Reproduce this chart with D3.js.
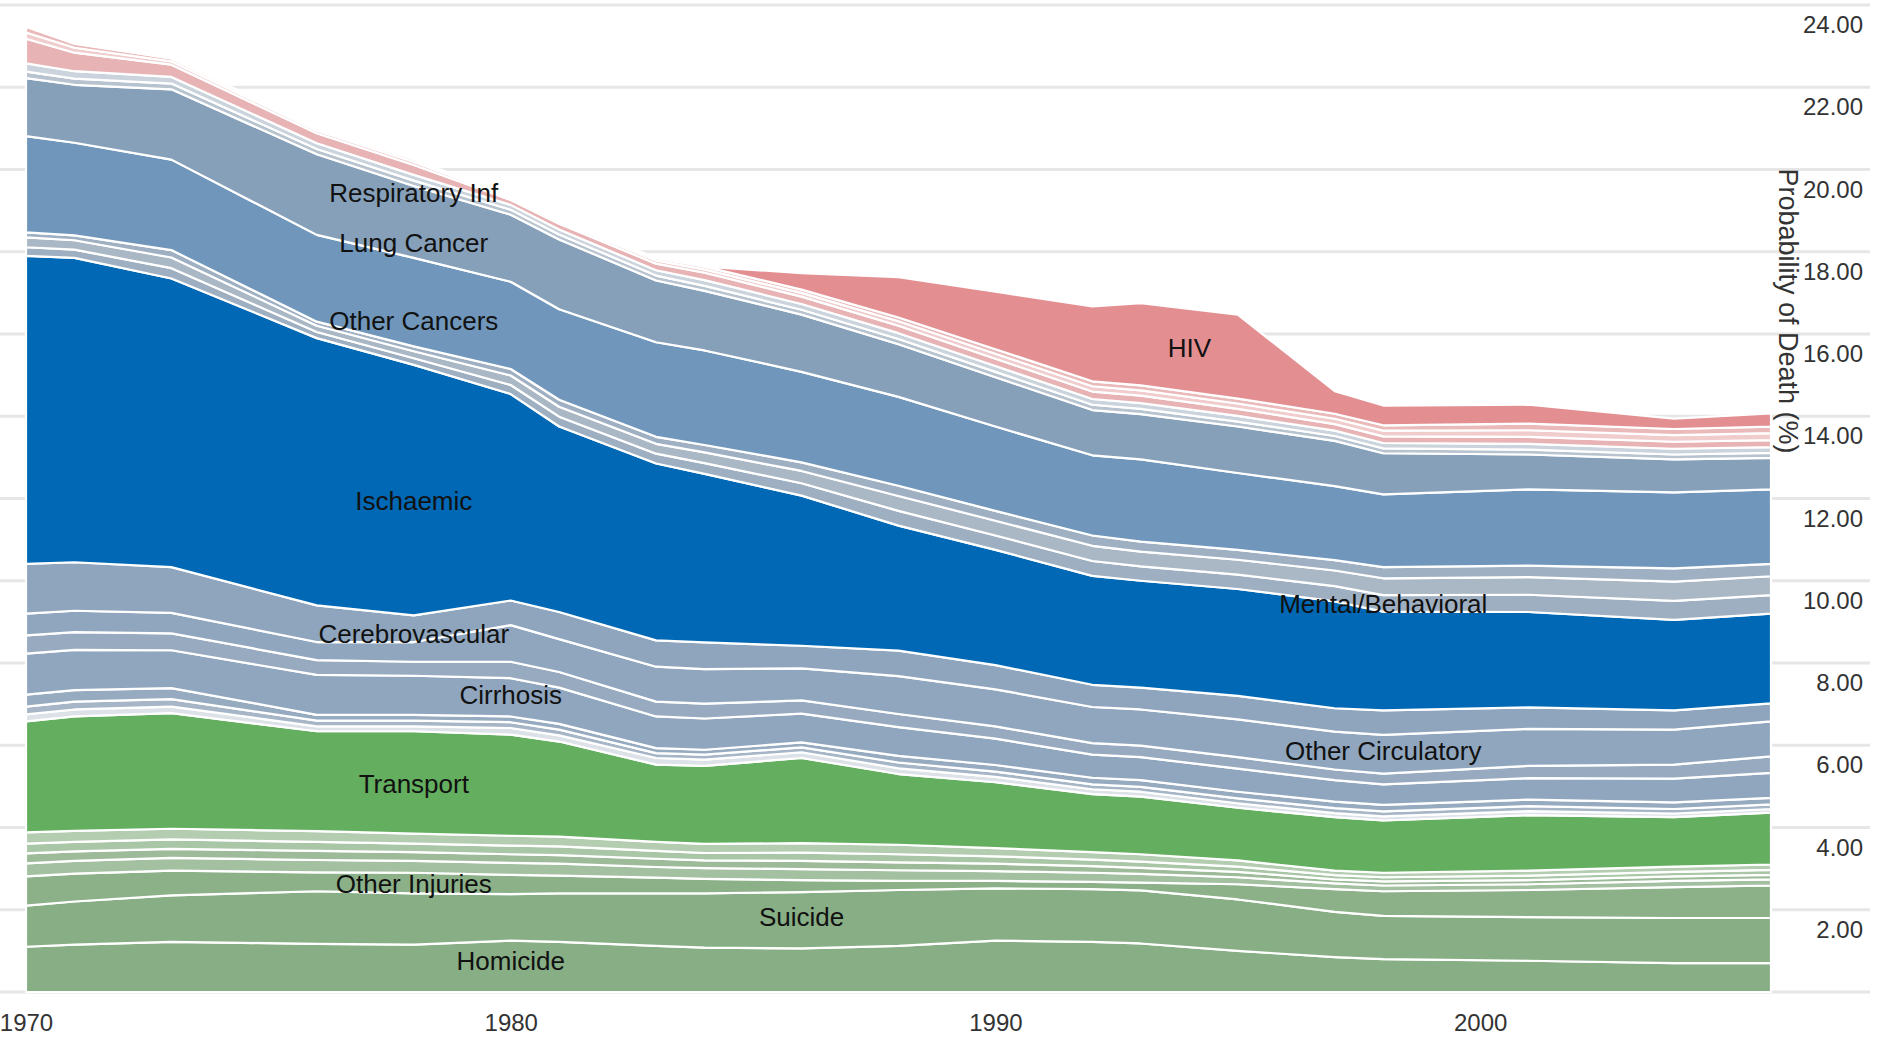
<!DOCTYPE html>
<html>
  <head>
    <meta charset="utf-8">
    <title>Probability of Death by Cause</title>
    <script src="https://d3js.org/d3.v7.min.js"></script>
    <style>
      body { margin: 0; background: #fff; }
      .grid line { stroke: #e6e6e6; stroke-width: 3; }
      .layer { stroke: #fff; stroke-width: 2.2; stroke-linejoin: round; }
      .axis text { font-family: "Liberation Sans", Arial, sans-serif; font-size: 24px; fill: #333; }
      .axis path { display: none; }
      .label { font-family: "Liberation Sans", Arial, sans-serif; font-size: 26px; fill: #111; text-anchor: middle; }
      .title { font-family: "Liberation Sans", Arial, sans-serif; font-size: 27px; fill: #333; text-anchor: middle; }
    </style>
  </head>
  <body>
    <svg width="1883" height="1038"></svg>
    <script>
      // years with data points
      var years = [1970, 1971, 1973, 1976, 1978, 1980, 1981, 1983, 1984, 1986, 1988, 1990, 1992, 1993, 1995, 1997, 1998, 2001, 2004, 2006];

      // injuries (bottom of stack)
      var homicide      = [1.10, 1.15, 1.22, 1.17, 1.15, 1.25, 1.22, 1.12, 1.08, 1.06, 1.12, 1.25, 1.22, 1.18, 1.00, 0.85, 0.80, 0.76, 0.70, 0.70];
      var suicide       = [1.00, 1.05, 1.13, 1.28, 1.25, 1.13, 1.18, 1.28, 1.32, 1.37, 1.36, 1.27, 1.28, 1.29, 1.25, 1.10, 1.05, 1.06, 1.10, 1.10];
      var otherInjuries = [0.71, 0.68, 0.60, 0.46, 0.50, 0.47, 0.43, 0.38, 0.35, 0.29, 0.22, 0.18, 0.18, 0.19, 0.37, 0.55, 0.60, 0.66, 0.75, 0.79];
      var injuryA       = [0.32, 0.31, 0.31, 0.30, 0.29, 0.29, 0.29, 0.26, 0.26, 0.27, 0.26, 0.24, 0.22, 0.21, 0.17, 0.14, 0.14, 0.14, 0.15, 0.15];
      var injuryB       = [0.24, 0.23, 0.22, 0.22, 0.21, 0.21, 0.21, 0.20, 0.19, 0.20, 0.19, 0.18, 0.16, 0.15, 0.13, 0.10, 0.10, 0.10, 0.11, 0.11];
      var injuryC       = [0.24, 0.23, 0.23, 0.22, 0.21, 0.21, 0.21, 0.19, 0.18, 0.20, 0.20, 0.18, 0.16, 0.15, 0.13, 0.10, 0.10, 0.11, 0.11, 0.12];
      var injuryD       = [0.27, 0.27, 0.26, 0.26, 0.24, 0.24, 0.24, 0.22, 0.22, 0.23, 0.23, 0.20, 0.18, 0.18, 0.15, 0.11, 0.11, 0.12, 0.13, 0.13];
      var transport     = [2.70, 2.78, 2.81, 2.43, 2.49, 2.46, 2.31, 1.88, 1.90, 2.07, 1.72, 1.60, 1.41, 1.40, 1.28, 1.30, 1.27, 1.35, 1.20, 1.26];

      // non-communicable, grey group
      var ncdA          = [0.17, 0.17, 0.16, 0.12, 0.12, 0.16, 0.15, 0.16, 0.15, 0.14, 0.14, 0.13, 0.12, 0.12, 0.11, 0.10, 0.10, 0.10, 0.09, 0.09];
      var ncdB          = [0.19, 0.19, 0.18, 0.14, 0.14, 0.14, 0.14, 0.12, 0.12, 0.12, 0.14, 0.13, 0.12, 0.12, 0.12, 0.12, 0.12, 0.12, 0.11, 0.11];
      var ncdC          = [0.29, 0.28, 0.27, 0.14, 0.14, 0.14, 0.14, 0.12, 0.12, 0.12, 0.16, 0.16, 0.16, 0.16, 0.16, 0.16, 0.16, 0.16, 0.16, 0.16];
      var cirrhosis     = [1.00, 0.98, 0.92, 0.97, 0.95, 0.93, 0.88, 0.77, 0.76, 0.70, 0.70, 0.64, 0.56, 0.56, 0.56, 0.52, 0.50, 0.52, 0.58, 0.61];
      var ncdD          = [0.44, 0.43, 0.41, 0.36, 0.34, 0.40, 0.38, 0.36, 0.36, 0.32, 0.32, 0.30, 0.28, 0.28, 0.28, 0.26, 0.26, 0.30, 0.34, 0.40];
      var otherCirc     = [0.53, 0.52, 0.50, 0.44, 0.48, 0.89, 0.80, 0.85, 0.84, 0.78, 0.92, 0.90, 0.88, 0.88, 0.92, 0.92, 0.94, 0.90, 0.85, 0.85];
      var cerebro       = [1.21, 1.18, 1.11, 0.89, 0.65, 0.60, 0.66, 0.64, 0.65, 0.55, 0.62, 0.59, 0.54, 0.53, 0.57, 0.57, 0.60, 0.52, 0.47, 0.44];
      var ischaemic     = [7.49, 7.40, 7.02, 6.50, 6.09, 5.02, 4.51, 4.30, 4.10, 3.65, 3.04, 2.80, 2.65, 2.60, 2.60, 2.60, 2.40, 2.32, 2.20, 2.18];
      var mental        = [0.21, 0.20, 0.25, 0.15, 0.16, 0.22, 0.24, 0.24, 0.26, 0.30, 0.36, 0.35, 0.36, 0.35, 0.35, 0.37, 0.40, 0.42, 0.46, 0.45];
      var ncdE          = [0.24, 0.23, 0.26, 0.15, 0.17, 0.23, 0.24, 0.24, 0.26, 0.30, 0.36, 0.36, 0.37, 0.36, 0.36, 0.38, 0.41, 0.43, 0.47, 0.46];
      var ncdF          = [0.12, 0.12, 0.18, 0.10, 0.12, 0.16, 0.17, 0.17, 0.18, 0.21, 0.25, 0.24, 0.25, 0.24, 0.24, 0.25, 0.27, 0.28, 0.32, 0.30];
      var otherCancers  = [2.34, 2.25, 2.20, 2.11, 2.15, 2.12, 2.20, 2.30, 2.30, 2.20, 2.16, 2.05, 1.95, 2.00, 1.87, 1.80, 1.77, 1.85, 1.85, 1.81];
      var lungCancer    = [1.41, 1.41, 1.71, 1.96, 1.75, 1.63, 1.70, 1.50, 1.45, 1.39, 1.28, 1.20, 1.10, 1.10, 1.13, 1.10, 1.00, 0.85, 0.80, 0.77];
      var ncdG          = [0.16, 0.15, 0.14, 0.13, 0.13, 0.12, 0.12, 0.12, 0.12, 0.12, 0.13, 0.13, 0.13, 0.13, 0.12, 0.12, 0.12, 0.12, 0.12, 0.12];
      var ncdH          = [0.20, 0.18, 0.16, 0.14, 0.14, 0.12, 0.12, 0.13, 0.14, 0.14, 0.14, 0.14, 0.14, 0.14, 0.14, 0.13, 0.13, 0.14, 0.14, 0.14];

      // communicable (top of stack)
      var respInf       = [0.60, 0.45, 0.30, 0.24, 0.24, 0.12, 0.14, 0.16, 0.18, 0.18, 0.18, 0.18, 0.18, 0.18, 0.17, 0.16, 0.16, 0.17, 0.17, 0.17];
      var commA         = [0.15, 0.12, 0.08, 0.07, 0.08, 0.04, 0.05, 0.08, 0.08, 0.09, 0.11, 0.12, 0.13, 0.13, 0.13, 0.13, 0.14, 0.16, 0.16, 0.17];
      var commB         = [0.14, 0.10, 0.07, 0.05, 0.06, 0.03, 0.04, 0.06, 0.07, 0.08, 0.09, 0.11, 0.12, 0.12, 0.12, 0.12, 0.13, 0.16, 0.15, 0.16];
      var hiv           = [0, 0, 0, 0, 0, 0, 0, 0, 0, 0.40, 0.98, 1.40, 1.82, 2.00, 2.04, 0.55, 0.48, 0.46, 0.25, 0.32];

      var yTicks = [2, 4, 6, 8, 10, 12, 14, 16, 18, 20, 22, 24];
      var xTicks = [1970, 1980, 1990, 2000];

      // name, values, colour (bottom to top)
      var series = [
        ["Homicide", homicide, "#87ae84"],
        ["Suicide", suicide, "#87ae84"],
        ["Other Injuries", otherInjuries, "#8cb189"],
        ["injuryA", injuryA, "#a3c0a0"],
        ["injuryB", injuryB, "#9dbb99"],
        ["injuryC", injuryC, "#a9c6a6"],
        ["injuryD", injuryD, "#b4cdb1"],
        ["Transport", transport, "#63ae5f"],
        ["ncdA", ncdA, "#dde2e8"],
        ["ncdB", ncdB, "#a6b6c7"],
        ["ncdC", ncdC, "#97abc0"],
        ["Cirrhosis", cirrhosis, "#8fa6be"],
        ["ncdD", ncdD, "#97aac0"],
        ["Other Circulatory", otherCirc, "#8fa6be"],
        ["Cerebrovascular", cerebro, "#8ea5bd"],
        ["Ischaemic", ischaemic, "#0068b4"],
        ["Mental/Behavioral", mental, "#9eafc1"],
        ["ncdE", ncdE, "#aab7c4"],
        ["ncdF", ncdF, "#9fb0c3"],
        ["Other Cancers", otherCancers, "#6f97bb"],
        ["Lung Cancer", lungCancer, "#86a0ba"],
        ["ncdG", ncdG, "#b7c3cf"],
        ["ncdH", ncdH, "#cbd3dc"],
        ["Respiratory Inf", respInf, "#e7b3b5"],
        ["commA", commA, "#f0cccd"],
        ["commB", commB, "#eab9ba"],
        ["HIV", hiv, "#e38e91"]
      ];

      // where the layer names are written
      var labels = [
        ["Respiratory Inf", 1978, 19.43],
        ["Lung Cancer", 1978, 18.21],
        ["Other Cancers", 1978, 16.32],
        ["Ischaemic", 1978, 11.94],
        ["Cerebrovascular", 1978, 8.71],
        ["Cirrhosis", 1980, 7.23],
        ["Transport", 1978, 5.05],
        ["Other Injuries", 1978, 2.64],
        ["Homicide", 1980, 0.76],
        ["Suicide", 1986, 1.83],
        ["HIV", 1994, 15.65],
        ["Mental/Behavioral", 1998, 9.44],
        ["Other Circulatory", 1998, 5.87]
      ];

      var table = years.map(function(yr, i) {
        var row = {year: yr};
        series.forEach(function(s) { row[s[0]] = s[1][i]; });
        return row;
      });

      var svg = d3.select("svg");

      // soft edges like the original
      svg.append("defs").append("filter")
          .attr("id", "soft")
        .append("feGaussianBlur")
          .attr("stdDeviation", 0.7);

      var x = d3.scaleLinear().domain([1970, 2006]).range([26, 1771]);
      var y = d3.scaleLinear().domain([0, 24]).range([992, 5]);

      // gridlines
      svg.append("g")
          .attr("class", "grid")
        .selectAll("line")
        .data([0].concat(yTicks))
        .enter().append("line")
          .attr("x1", 0)
          .attr("x2", 1870)
          .attr("y1", function(d) { return y(d); })
          .attr("y2", function(d) { return y(d); });

      var stack = d3.stack().keys(series.map(function(s) { return s[0]; }));
      var layers = stack(table);

      var area = d3.area()
          .x(function(d) { return x(d.data.year); })
          .y0(function(d) { return y(d[0]); })
          .y1(function(d) { return y(d[1]); });

      svg.append("g")
          .attr("filter", "url(#soft)")
        .selectAll("path")
          .data(layers)
          .enter().append("path")
          .attr("class", "layer")
          .attr("fill", function(d, i) { return series[i][2]; })
          .attr("d", area);

      // right axis, labels sit just under their gridline
      svg.append("g")
          .attr("class", "axis")
          .attr("transform", "translate(1863,0)")
          .call(d3.axisLeft(y).tickValues(yTicks).tickFormat(d3.format(".2f")).tickSize(0).tickPadding(0))
          .selectAll("text")
            .attr("dy", "1.15em");

      svg.append("g")
          .attr("class", "axis")
          .attr("transform", "translate(0,1014)")
          .call(d3.axisBottom(x).tickValues(xTicks).tickFormat(d3.format("d")).tickSize(0).tickPadding(0));

      svg.append("text")
          .attr("class", "title")
          .attr("transform", "translate(1779,311) rotate(90)")
          .text("Probability of Death (%)");

      svg.append("g").selectAll("text")
          .data(labels)
          .enter().append("text")
          .attr("class", "label")
          .attr("x", function(d) { return x(d[1]); })
          .attr("y", function(d) { return y(d[2]); })
          .attr("dy", "0.35em")
          .text(function(d) { return d[0]; });
    </script>
  </body>
</html>
